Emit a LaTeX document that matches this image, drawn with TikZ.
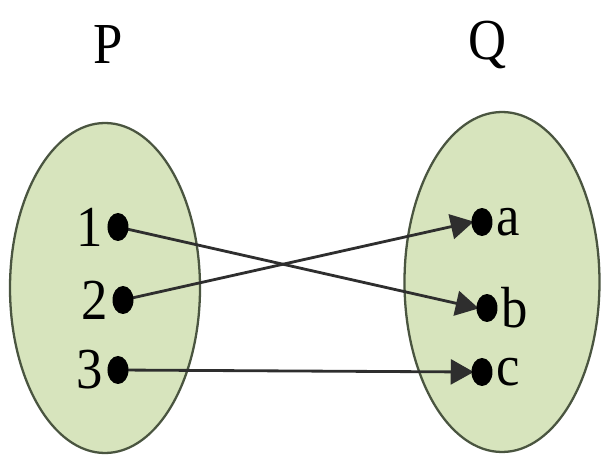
\documentclass[tikz,border=0pt]{standalone}
\usepackage{fontspec}
\setmainfont{Liberation Serif}
\usepackage{xcolor}
\usepackage{tikz}
\usetikzlibrary{arrows.meta,positioning,calc,shapes.geometric}

\definecolor{setfill}{HTML}{D7E4BD}
\definecolor{setline}{HTML}{4A5540}
\definecolor{mapline}{HTML}{2E2E2E}

\begin{document}
\begin{tikzpicture}
\tikzset{set/.style={ellipse, draw=setline, fill=setfill, line width=1.3pt, inner sep=0pt},
  pt/.style={ellipse, fill=black, minimum width=0.42cm, minimum height=0.56cm, inner sep=0pt},
  lbl/.style={font=\fontsize{30}{36}\selectfont, inner sep=1pt, yscale=1.1},
  map/.style={draw=mapline, line width=1.6pt, -{Triangle[length=0.46cm, width=0.5cm]}, shorten >=-1pt}};
\useasboundingbox (0,0) rectangle (12.08,9.14);
% the two sets
\node [set, minimum width=3.8cm, minimum height=6.6cm] (P) at (2.10,3.38) {};
\node [set, minimum width=3.9cm, minimum height=6.8cm] (Q) at (10.04,3.50) {};
\node [lbl] (Ptitle) at (2.16,8.24) {P};
\node [lbl] (Qtitle) at (9.76,8.24) {Q};
% elements of P
\coordinate (d1) at (2.36,4.60);
\coordinate (d2) at (2.46,3.14);
\coordinate (d3) at (2.36,1.74);
% elements of Q
\coordinate (da) at (9.64,4.70);
\coordinate (db) at (9.74,2.98);
\coordinate (dc) at (9.64,1.70);
% mappings
\draw [map] (d1) -- ($(db)+(-0.2,0)$);
\draw [map] (d2) -- ($(da)+(-0.2,0)$);
\draw [map] (d3) -- ($(dc)+(-0.2,0)$);
\node [pt] (p1) at (d1) {};
\node [pt] (p2) at (d2) {};
\node [pt] (p3) at (d3) {};
\node [pt] (qa) at (da) {};
\node [pt] (qb) at (db) {};
\node [pt] (qc) at (dc) {};
\node [lbl, left=0.04cm of p1] (n1) {1};
\node [lbl, left=0.04cm of p2] (n2) {2};
\node [lbl, left=0.04cm of p3] (n3) {3};
\node [lbl, right=0.04cm of qa] (na) {a};
\node [lbl, right=0.04cm of qb] (nb) {b};
\node [lbl, right=0.04cm of qc] (nc) {c};
\end{tikzpicture}
\end{document}
